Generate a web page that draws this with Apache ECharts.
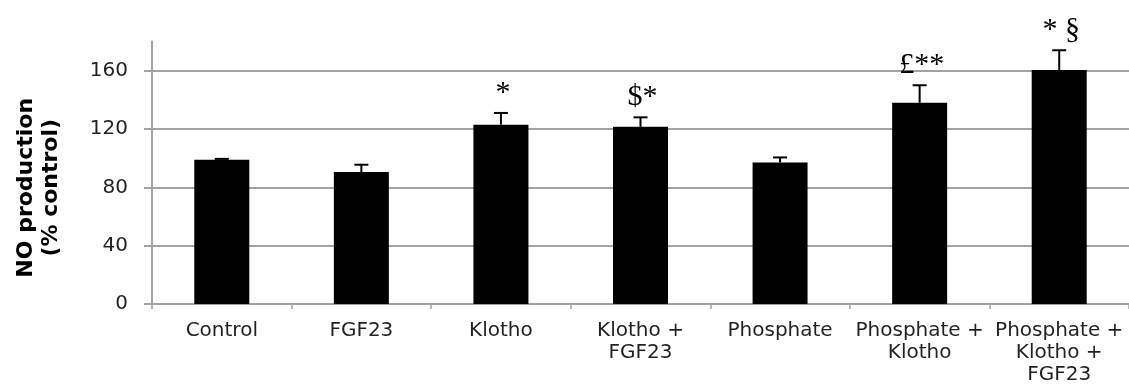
<!DOCTYPE html>
<html>
<head>
<meta charset="utf-8">
<script src="https://cdn.jsdelivr.net/npm/echarts@6/dist/echarts.min.js"></script>
<style>
  html, body { margin: 0; padding: 0; background: #fff; }
  #chart { width: 1129px; height: 392px; }
</style>
</head>
<body>
<div id="chart"></div>
<script>
// Treatment groups (x axis)
const categories = [
  'Control',
  'FGF23',
  'Klotho',
  'Klotho +\nFGF23',
  'Phosphate',
  'Phosphate +\nKlotho',
  'Phosphate +\nKlotho +\nFGF23'
];
// NO production, % of control (bar heights)
const noProduction = [99, 90.5, 123, 121.5, 97, 138, 160.5];
// Upper error (SEM)
const errorUp = [0.5, 5, 8, 6.5, 3.5, 12, 13.5];
// Significance symbols drawn above the error bars
const significance = ['', '', '*', '$*', '', '£**', '* §'];
// Y axis tick values
const yTicks = [0, 40, 80, 120, 160];

const axisGray = '#a3a3a3';
const textColor = '#231f24';

const errorData = noProduction.map((v, i) => [i, v, errorUp[i]]);

const chart = echarts.init(document.getElementById('chart'), null, { renderer: 'canvas' });

chart.setOption({
  animation: false,
  backgroundColor: '#fff',
  grid: {
    left: 152,
    right: 0,
    top: 41.5,
    bottom: 88,
    containLabel: false,
    outerBoundsMode: 'none'
  },
  xAxis: {
    type: 'category',
    data: categories,
    boundaryGap: true,
    axisLine: { show: true, lineStyle: { color: axisGray, width: 2 } },
    axisTick: { show: true, length: 5, lineStyle: { color: axisGray, width: 1.5 } },
    axisLabel: {
      interval: 0,
      margin: 16,
      color: textColor,
      fontFamily: 'DejaVu Sans',
      fontSize: 20,
      lineHeight: 22,
      align: 'center'
    },
    splitLine: { show: false }
  },
  yAxis: {
    type: 'value',
    min: 0,
    max: 180,
    interval: 40,
    name: 'NO production\n(% control)',
    nameLocation: 'middle',
    nameGap: 88,
    nameTextStyle: {
      fontFamily: 'DejaVu Sans',
      fontWeight: 'bold',
      fontSize: 22,
      lineHeight: 25,
      color: '#000',
      padding: [0, 30, 0, 0]
    },
    axisLine: { show: true, lineStyle: { color: axisGray, width: 2 } },
    axisTick: {
      show: true,
      inside: false,
      length: 8,
      customValues: yTicks,
      lineStyle: { color: axisGray, width: 2 }
    },
    axisLabel: {
      customValues: yTicks,
      margin: 24,
      color: textColor,
      fontFamily: 'DejaVu Sans',
      fontSize: 20
    },
    splitLine: { show: true, lineStyle: { color: axisGray, width: 2 } }
  },
  series: [
    {
      type: 'bar',
      data: noProduction,
      barWidth: 55,
      itemStyle: { color: '#000' },
      z: 2
    },
    {
      type: 'custom',
      data: errorData,
      z: 3,
      clip: false,
      encode: { x: 0, y: 1 },
      renderItem: function (params, api) {
        const i = api.value(0);
        const mean = api.value(1);
        const err = api.value(2);
        const base = api.coord([i, mean]);
        const top = api.coord([i, mean + err]);
        const half = 7;
        const children = [
          {
            type: 'line',
            shape: { x1: base[0], y1: base[1], x2: top[0], y2: top[1] },
            style: { stroke: '#000', lineWidth: 2 }
          },
          {
            type: 'line',
            shape: { x1: top[0] - half, y1: top[1], x2: top[0] + half, y2: top[1] },
            style: { stroke: '#000', lineWidth: 2 }
          }
        ];
        const mark = significance[params.dataIndex];
        if (mark) {
          children.push({
            type: 'text',
            x: top[0] + 2,
            y: top[1] - 5,
            style: {
              text: mark,
              fontFamily: 'Liberation Serif',
              fontSize: 30,
              fill: '#000',
              align: 'center',
              verticalAlign: 'bottom'
            }
          });
        }
        return { type: 'group', children: children };
      }
    }
  ]
});
</script>
</body>
</html>
